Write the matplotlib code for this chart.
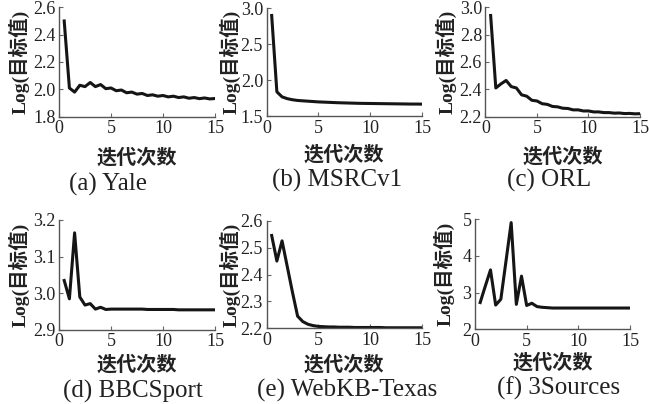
import numpy as np
import matplotlib
matplotlib.use('Agg')
import matplotlib.pyplot as plt

W, H = 649, 404

# iteration axis shared by all six datasets
iters = np.arange(1, 31) * 0.5

yale = [2.50, 2.01, 1.98, 2.03, 2.02, 2.05, 2.02, 2.035, 2.005, 2.01,
        1.99, 1.995, 1.975, 1.98, 1.965, 1.97, 1.955, 1.96, 1.95, 1.955,
        1.945, 1.95, 1.94, 1.945, 1.935, 1.94, 1.932, 1.937, 1.93, 1.933]
msrc = [2.90, 1.84, 1.77, 1.745, 1.73, 1.72, 1.715, 1.71, 1.705, 1.70,
        1.697, 1.694, 1.691, 1.688, 1.686, 1.684, 1.682, 1.68, 1.679, 1.678,
        1.677, 1.676, 1.675, 1.674, 1.673, 1.672, 1.671, 1.67, 1.67, 1.669]
orl = [2.94, 2.41, 2.44, 2.465, 2.42, 2.41, 2.36, 2.35, 2.32, 2.315,
       2.295, 2.29, 2.275, 2.272, 2.262, 2.26, 2.25, 2.25, 2.242, 2.242,
       2.235, 2.235, 2.23, 2.23, 2.226, 2.227, 2.223, 2.224, 2.221, 2.222]
bbc = [3.035, 2.985, 3.165, 2.99, 2.968, 2.972, 2.957, 2.962, 2.956, 2.957,
       2.957, 2.957, 2.957, 2.957, 2.957, 2.957, 2.956, 2.956, 2.956, 2.956,
       2.956, 2.956, 2.955, 2.955, 2.955, 2.955, 2.955, 2.955, 2.955, 2.955]
texas = [2.545, 2.45, 2.525, 2.43, 2.335, 2.245, 2.225, 2.215, 2.21, 2.207,
         2.206, 2.205, 2.205, 2.204, 2.204, 2.204, 2.203, 2.203, 2.203, 2.203,
         2.203, 2.203, 2.202, 2.202, 2.202, 2.202, 2.202, 2.202, 2.202, 2.202]
sources = [2.73, 3.18, 3.62, 2.66, 2.82, 3.86, 4.91, 2.68, 3.45, 2.65,
           2.71, 2.62, 2.60, 2.59, 2.58, 2.58, 2.58, 2.58, 2.58, 2.58,
           2.58, 2.58, 2.58, 2.58, 2.58, 2.58, 2.58, 2.58, 2.58, 2.58]

captions = ['(a) Yale', '(b) MSRCv1', '(c) ORL',
            '(d) BBCSport', '(e) WebKB-Texas', '(f) 3Sources']
series = [yale, msrc, orl, bbc, texas, sources]
yticks = [[1.8, 2.0, 2.2, 2.4, 2.6], [1.5, 2.0, 2.5, 3.0],
          [2.2, 2.4, 2.6, 2.8, 3.0], [2.9, 3.0, 3.1, 3.2],
          [2.2, 2.3, 2.4, 2.5, 2.6], [2, 3, 4, 5]]
yfmt = ['%.1f', '%.1f', '%.1f', '%.1f', '%.1f', '%d']

# panel boxes in pixels: left, right, top, bottom
boxes = [(59, 215, 7.3, 116.7), (266.5, 422, 8.3, 116.3), (485.5, 640, 7.3, 116.7),
         (59, 215, 220, 330), (266.5, 422, 220.7, 328.3), (475, 630, 219.3, 329.3)]
ylab_x = [19, 230, 446, 19.5, 230.5, 444]
xlab_y = [157, 154, 156, 364, 364, 362]
cap_pos = [(108, 184), (337, 180), (549, 180), (133, 391), (347, 390), (559, 388)]

serif = 'Liberation Serif'
cjk = 'Noto Sans CJK SC'

fig = plt.figure(figsize=(W / 100, H / 100), dpi=100)

for i in range(6):
    l, r, t, b = boxes[i]
    ax = fig.add_axes([l / W, 1 - b / H, (r - l) / W, (b - t) / H])
    ax.plot(iters, series[i], color='#151515', lw=2.2)
    ax.set_xlim(0, 15)
    ax.set_ylim(yticks[i][0], yticks[i][-1])
    ax.set_xticks([0, 5, 10, 15])
    ax.set_yticks(yticks[i])
    ax.set_yticklabels([yfmt[i] % v for v in yticks[i]])
    for s in ['top', 'right']:
        ax.spines[s].set_visible(False)
    for s in ['left', 'bottom']:
        ax.spines[s].set_color('#555555')
        ax.spines[s].set_linewidth(1.0)
    ax.tick_params(direction='in', length=3, width=0.8, color='#666666',
                   labelsize=13, pad=2.5)
    for lab in ax.get_xticklabels() + ax.get_yticklabels():
        lab.set_fontfamily(serif)
        lab.set_color('#222222')

    yc = (t + b) / 2
    fig.text(ylab_x[i] / W, 1 - yc / H, 'Log(目标值)', rotation=90,
             ha='center', va='center', fontsize=14, fontweight='bold',
             family=[serif, cjk], color='#222222')
    fig.text((l + r) / 2 / W, 1 - xlab_y[i] / H, '迭代次数', ha='center',
             va='center', fontsize=14.5, fontweight='bold', family=cjk,
             color='#222222')
    cx, cy = cap_pos[i]
    fig.text(cx / W, 1 - cy / H, captions[i], ha='center', va='center',
             fontsize=18, family=serif, color='#222222')

fig.savefig('out.png', dpi=100)
